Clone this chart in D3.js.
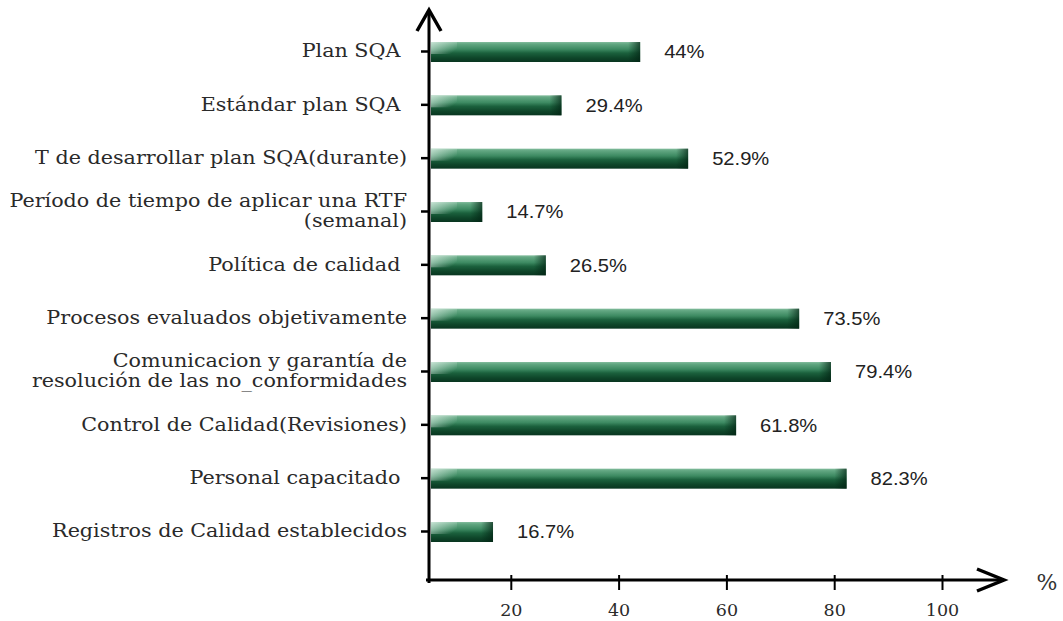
<!DOCTYPE html>
<html>
<head>
<meta charset="utf-8">
<script src="https://cdn.jsdelivr.net/npm/d3@7"></script>
<style>
  html, body { margin: 0; padding: 0; background: #fff; }
  svg { display: block; }
</style>
</head>
<body>
<svg id="chart" width="1063" height="621"></svg>
<script>
// Survey results: share of teams applying each software-quality practice (%)
const categories = [
  "Plan SQA ",
  "Estándar plan SQA ",
  "T de desarrollar plan SQA(durante)",
  "Período de tiempo de aplicar una RTF\n(semanal)",
  "Política de calidad ",
  "Procesos evaluados objetivamente",
  "Comunicacion y garantía de\nresolución de las no_conformidades",
  "Control de Calidad(Revisiones)",
  "Personal capacitado ",
  "Registros de Calidad establecidos"
];
const values = [44, 29.4, 52.9, 14.7, 26.5, 73.5, 79.4, 61.8, 82.3, 16.7];
const valueLabels = ["44%", "29.4%", "52.9%", "14.7%", "26.5%", "73.5%", "79.4%", "61.8%", "82.3%", "16.7%"];
const xTicks = [20, 40, 60, 80, 100];
const unitLabel = "%";

const svg = d3.select("#chart");
const serif = "'DejaVu Serif', serif";
const sans = "'Liberation Sans', Arial, sans-serif";

const axisX = 429;      // vertical axis position
const axisY = 580;      // horizontal axis position
const labelRight = 407; // right edge of the category labels

const x = d3.scaleLinear().domain([0, 100]).range([403, 942]);
const y = d3.scalePoint().domain(categories).range([51, 531]);
const barH = 20;

// gradients for the bevelled bars
const defs = svg.append("defs");
const body = defs.append("linearGradient").attr("id", "barBody")
  .attr("x1", 0).attr("y1", 0).attr("x2", 0).attr("y2", 1);
[[0, "#84bd9e"], [0.1, "#62a782"], [0.36, "#3d8a62"], [0.55, "#1b613d"], [0.8, "#0e4529"], [1, "#083520"]]
  .forEach(([o, c]) => body.append("stop").attr("offset", o).attr("stop-color", c));

const shine = defs.append("linearGradient").attr("id", "barShine")
  .attr("x1", 0).attr("y1", 0).attr("x2", 1).attr("y2", 0.6);
shine.append("stop").attr("offset", 0).attr("stop-color", "#e8f5ee").attr("stop-opacity", 0.7);
shine.append("stop").attr("offset", 1).attr("stop-color", "#e8f5ee").attr("stop-opacity", 0);

const endShade = defs.append("linearGradient").attr("id", "barEnd")
  .attr("x1", 0).attr("y1", 0).attr("x2", 1).attr("y2", 0);
endShade.append("stop").attr("offset", 0).attr("stop-color", "#022313").attr("stop-opacity", 0);
endShade.append("stop").attr("offset", 1).attr("stop-color", "#022313").attr("stop-opacity", 0.7);

// bars
const bars = svg.append("g").selectAll("g.bar")
  .data(categories.map((c, i) => ({ c, v: values[i], label: valueLabels[i] })))
  .join("g").attr("class", "bar");

const barStart = axisX + 2;
bars.append("rect")
  .attr("x", barStart)
  .attr("y", d => y(d.c) + 1 - barH / 2)
  .attr("width", d => x(d.v) - barStart)
  .attr("height", barH)
  .attr("fill", "url(#barBody)");
bars.append("rect")
  .attr("x", barStart)
  .attr("y", d => y(d.c) + 1 - barH / 2)
  .attr("width", d => Math.min(26, x(d.v) - barStart))
  .attr("height", barH * 0.6)
  .attr("fill", "url(#barShine)");
bars.append("rect")
  .attr("x", d => x(d.v) - 12)
  .attr("y", d => y(d.c) + 1 - barH / 2)
  .attr("width", 12)
  .attr("height", barH)
  .attr("fill", "url(#barEnd)");

// value labels (slightly widened type)
bars.append("text")
  .attr("transform", d => `translate(${x(d.v) + 24},${y(d.c) + 1}) scale(1.12,1)`)
  .attr("dy", "0.36em")
  .attr("font-family", sans)
  .attr("font-size", 18)
  .attr("fill", "#222")
  .text(d => d.label);

// vertical axis with left ticks
const yAxis = svg.append("g").attr("transform", `translate(${axisX},0)`)
  .call(d3.axisLeft(y).tickSize(8).tickFormat(""));
yAxis.select(".domain").remove();
yAxis.selectAll(".tick line").attr("stroke", "#000").attr("stroke-width", 2.5);

// category labels (multi-line where needed), widened around their right edge
svg.append("g")
  .attr("transform", `translate(${labelRight},0) scale(1.15,1)`)
  .selectAll("text")
  .data(categories).join("text")
  .attr("x", 0)
  .attr("text-anchor", "end")
  .attr("font-family", serif)
  .attr("font-size", 18)
  .attr("fill", "#2a2a2a")
  .style("white-space", "pre")
  .each(function (c) {
    const lines = c.split("\n");
    const lh = 20;
    const t = d3.select(this);
    lines.forEach((ln, k) => {
      t.append("tspan")
        .attr("x", 0)
        .attr("y", y(c) + (k - (lines.length - 1) / 2) * lh)
        .attr("dy", "0.35em")
        .text(ln);
    });
  });

// horizontal axis with crossing ticks
const xAxis = svg.append("g").attr("transform", `translate(0,${axisY})`)
  .call(d3.axisBottom(x).tickValues(xTicks).tickSizeOuter(0).tickSizeInner(10).tickPadding(14));
xAxis.select(".domain").remove();
xAxis.selectAll(".tick line").attr("y1", -5).attr("y2", 10).attr("stroke", "#000").attr("stroke-width", 2);
xAxis.selectAll(".tick text")
  .attr("font-family", serif).attr("font-size", 17.5).attr("fill", "#2a2a2a");

// axis lines and arrowheads
const axes = svg.append("g").attr("fill", "none").attr("stroke", "#000")
  .attr("stroke-linecap", "square");
axes.append("line").attr("x1", axisX).attr("y1", 12).attr("x2", axisX).attr("y2", axisY + 1.5)
  .attr("stroke-width", 3);
axes.append("line").attr("x1", axisX - 1.5).attr("y1", axisY).attr("x2", 1000).attr("y2", axisY)
  .attr("stroke-width", 3);
axes.append("path").attr("d", `M${axisX - 12},31 L${axisX},10 L${axisX + 12},31`)
  .attr("stroke-width", 3.5).attr("stroke-linejoin", "miter").attr("stroke-linecap", "butt");
axes.append("path").attr("d", `M977,569 L1004,${axisY} L977,591`)
  .attr("stroke-width", 3.5).attr("stroke-linejoin", "miter").attr("stroke-linecap", "butt");

svg.append("text")
  .attr("x", 1047).attr("y", 590)
  .attr("text-anchor", "middle")
  .attr("font-family", serif).attr("font-size", 22).attr("fill", "#333")
  .text(unitLabel);
</script>
</body>
</html>
